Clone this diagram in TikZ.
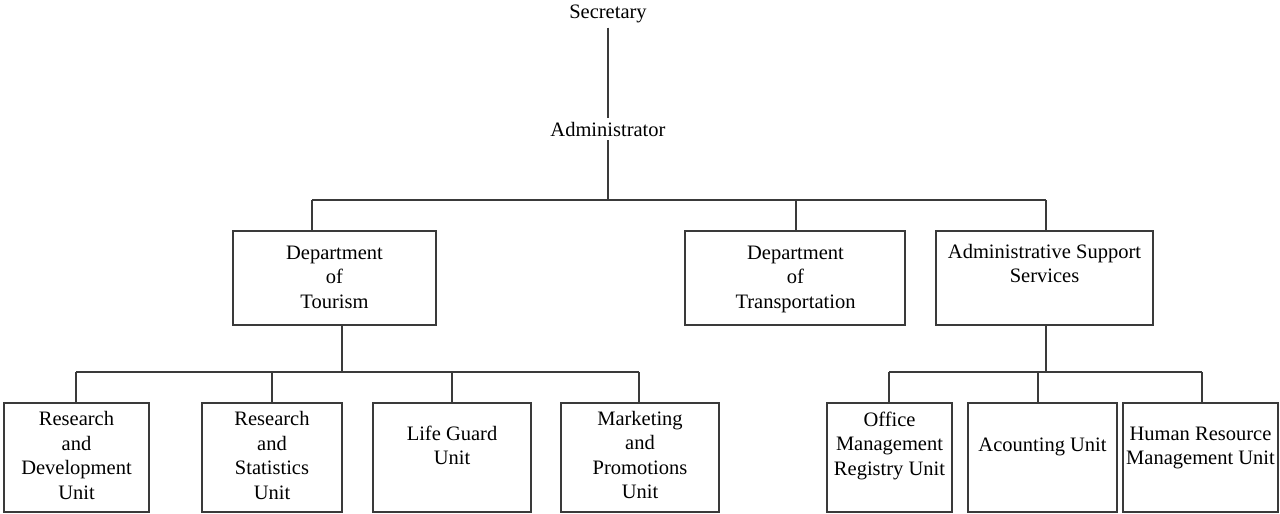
\documentclass[tikz,border=0pt]{standalone}
\usepackage{fontspec}
\setmainfont{Liberation Serif}
\definecolor{lc}{HTML}{3A3A3A}
\begin{document}
\begin{tikzpicture}[x=1pt,y=-1pt,
  box/.style={draw=lc, line width=1.4pt, inner sep=0pt, outer sep=0pt, anchor=north west},
  lbl/.style={font=\fontsize{20.5}{24.6}\selectfont, align=center, anchor=base, inner sep=0pt, text=black},
  wire/.style={draw=lc, line width=1.4pt}]
\useasboundingbox (0,0) rectangle (1280,514);

% top of the chart
\node[lbl, inner ysep=5pt] (sec) at (608,18) {Secretary};
\node[lbl, inner ysep=4pt] (adm) at (608,136) {Administrator};

% department level boxes
\node[box, minimum width=203pt, minimum height=94pt] (tour) at (233,231) {};
\node[box, minimum width=220pt, minimum height=94pt] (trans) at (685,231) {};
\node[box, minimum width=217pt, minimum height=94pt] (ass) at (936,231) {};
% labels are placed by the baseline of their last line
\node[lbl] (tourT) at (334.5,308.2) {Department\\of\\Tourism};
\node[lbl] (transT) at (795.5,308.2) {Department\\of\\Transportation};
\node[lbl] (assT) at (1044.5,282.6) {Administrative Support\\Services};

% unit level boxes
\node[box, minimum width=145pt, minimum height=109pt] (u1) at (4,403) {};
\node[box, minimum width=140pt, minimum height=109pt] (u2) at (202,403) {};
\node[box, minimum width=158pt, minimum height=109pt] (u3) at (373,403) {};
\node[box, minimum width=158pt, minimum height=109pt] (u4) at (561,403) {};
\node[box, minimum width=125pt, minimum height=109pt] (u5) at (827,403) {};
\node[box, minimum width=149pt, minimum height=109pt] (u6) at (968,403) {};
\node[box, minimum width=155pt, minimum height=109pt] (u7) at (1123,403) {};
\node[lbl] (u1T) at (76.5,499.3) {Research\\and\\Development\\Unit};
\node[lbl] (u2T) at (272,499.3) {Research\\and\\Statistics\\Unit};
\node[lbl] (u3T) at (452,464.6) {Life Guard\\Unit};
\node[lbl] (u4T) at (640,498.8) {Marketing\\and\\Promotions\\Unit};
\node[lbl] (u5T) at (889.5,475.2) {Office\\Management\\Registry Unit};
\node[lbl] (u6T) at (1042.5,451) {Acounting Unit};
\node[lbl] (u7T) at (1200.5,464.6) {Human Resource\\Management Unit};

% junction points
\coordinate (busA) at (608,200);
\coordinate (busAL) at (312,200);
\coordinate (busAM) at (796,200);
\coordinate (busAR) at (1046,200);
\coordinate (dropT) at (342,325);
\coordinate (busB) at (342,372);
\coordinate (busBL) at (76,372);
\coordinate (busB2) at (272,372);
\coordinate (busB3) at (452,372);
\coordinate (busBR) at (639,372);
\coordinate (dropS) at (1046,325);
\coordinate (busC) at (1046,372);
\coordinate (busCL) at (889,372);
\coordinate (busC2) at (1038,372);
\coordinate (busCR) at (1202,372);

% connectors
\draw[wire] (sec.south) -- (adm.north);
\draw[wire] (adm.south) -- (busA);
\draw[wire] (busAL) -- (busAR);
\draw[wire] (busAL) -- (busAL |- tour.north);
\draw[wire] (busAM) -- (busAM |- trans.north);
\draw[wire] (busAR) -- (busAR |- ass.north);

\draw[wire] (dropT |- tour.south) -- (busB);
\draw[wire] (busBL) -- (busBR);
\draw[wire] (busBL) -- (busBL |- u1.north);
\draw[wire] (busB2) -- (busB2 |- u2.north);
\draw[wire] (busB3) -- (busB3 |- u3.north);
\draw[wire] (busBR) -- (busBR |- u4.north);

\draw[wire] (dropS |- ass.south) -- (busC);
\draw[wire] (busCL) -- (busCR);
\draw[wire] (busCL) -- (busCL |- u5.north);
\draw[wire] (busC2) -- (busC2 |- u6.north);
\draw[wire] (busCR) -- (busCR |- u7.north);
\end{tikzpicture}
\end{document}
